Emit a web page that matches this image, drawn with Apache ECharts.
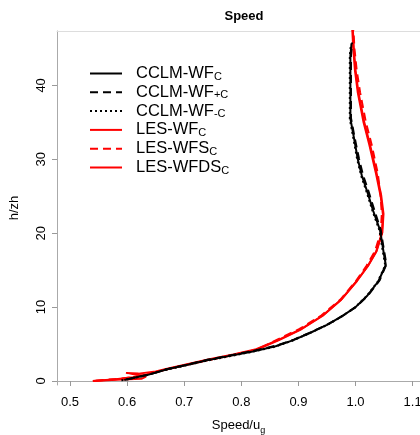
<!DOCTYPE html>
<html><head><meta charset="utf-8">
<script src="https://cdn.jsdelivr.net/npm/echarts@6/dist/echarts.min.js"></script>
<style>html,body{margin:0;padding:0;background:#fff}#c{width:420px;height:435px}</style>
</head><body><div id="c"></div><script>
// Tick labels
const xTicks = [0.5, 0.6, 0.7, 0.8, 0.9, 1.0, 1.1];
const yTicks = [0, 10, 20, 30, 40];

// Series: speed (x) and height h/zh (y)
const cclmWfC_h = [0.15, 0.4, 0.8, 1.6, 2.1, 2.8, 3.4, 4.0, 4.7, 5.5, 6.5, 7.6, 8.7, 10.0, 11.5, 13.5, 15.7, 17.5, 20.4, 23.0, 25.5, 27.8, 30.0, 33.0, 35.5, 40.0, 44.0, 45.7];
const cclmWfC_s = [0.595, 0.61, 0.635, 0.67, 0.70, 0.74, 0.78, 0.82, 0.86, 0.89, 0.92, 0.95, 0.975, 1.0, 1.02, 1.04, 1.053, 1.049, 1.043, 1.031, 1.021, 1.011, 1.004, 0.997, 0.991, 0.991, 0.991, 0.993];

const cclmWfPlus_h = [0.2, 0.5, 0.9, 1.7, 2.2, 2.9, 3.5, 4.1, 4.8, 5.6, 6.6, 7.7, 8.8, 10.1, 11.6, 13.6, 15.8, 17.6, 20.5, 23.1, 25.6, 27.9, 30.1, 33.1, 35.6, 40.0, 44.0, 45.8];
const cclmWfPlus_s = [0.60, 0.615, 0.64, 0.675, 0.705, 0.742, 0.782, 0.822, 0.862, 0.892, 0.922, 0.952, 0.977, 1.002, 1.022, 1.042, 1.054, 1.050, 1.044, 1.033, 1.023, 1.013, 1.006, 0.998, 0.992, 0.992, 0.992, 0.994];

const cclmWfMinus_h = [0.1, 0.35, 0.75, 1.55, 2.05, 2.75, 3.35, 3.95, 4.65, 5.45, 6.45, 7.55, 8.65, 9.95, 11.45, 13.45, 15.65, 17.45, 20.35, 22.95, 25.45, 27.75, 29.95, 32.95, 35.45, 40.0, 44.0, 45.6];
const cclmWfMinus_s = [0.59, 0.607, 0.633, 0.668, 0.699, 0.739, 0.779, 0.819, 0.859, 0.889, 0.919, 0.949, 0.974, 0.999, 1.019, 1.039, 1.052, 1.048, 1.042, 1.030, 1.020, 1.010, 1.003, 0.996, 0.990, 0.990, 0.990, 0.992];

const lesWfC_h = [0.0, 0.25, 0.5, 0.8, 1.2, 1.6, 2.2, 2.8, 3.5, 4.2, 5.5, 7.0, 8.8, 11.0, 13.5, 15.5, 17.5, 20.0, 22.5, 25.0, 28.0, 32.0, 35.0, 39.0, 42.0, 45.0, 48.0];
const lesWfC_s = [0.54, 0.58, 0.61, 0.63, 0.65, 0.67, 0.705, 0.74, 0.785, 0.825, 0.865, 0.905, 0.942, 0.975, 1.002, 1.021, 1.036, 1.046, 1.048, 1.044, 1.036, 1.024, 1.014, 1.004, 0.999, 0.996, 0.994];

const lesWfsC_h = [0.05, 0.3, 0.55, 0.85, 1.25, 1.65, 2.25, 2.85, 3.55, 4.25, 5.55, 7.05, 8.85, 11.05, 13.55, 15.55, 17.55, 20.05, 22.55, 25.05, 28.05, 32.05, 35.05, 39.05, 42.05, 45.05, 48.0];
const lesWfsC_s = [0.545, 0.585, 0.615, 0.633, 0.652, 0.672, 0.707, 0.743, 0.787, 0.827, 0.862, 0.902, 0.94, 0.974, 1.001, 1.019, 1.034, 1.044, 1.046, 1.044, 1.039, 1.028, 1.018, 1.008, 1.002, 0.998, 0.996];

const lesWfdsC_h = [0.0, 0.2, 0.3, 0.6, 0.9, 1.1, 1.0, 1.3, 1.7, 2.3, 2.9, 3.6, 4.3, 5.6, 7.1, 8.9, 11.1, 13.6, 15.6, 17.6, 20.1, 22.6, 25.1, 28.1, 32.1, 35.1, 39.1, 42.1, 45.1, 48.0];
const lesWfdsC_s = [0.54, 0.59, 0.625, 0.633, 0.612, 0.598, 0.62, 0.65, 0.672, 0.707, 0.742, 0.786, 0.826, 0.866, 0.906, 0.943, 0.976, 1.003, 1.022, 1.037, 1.047, 1.049, 1.045, 1.037, 1.025, 1.015, 1.005, 1.0, 0.997, 0.995];

const seriesNames = ['CCLM-WFC', 'CCLM-WF+C', 'CCLM-WF-C', 'LES-WFC', 'LES-WFSC', 'LES-WFDSC'];
const legendMain = ['CCLM-WF', 'CCLM-WF', 'CCLM-WF', 'LES-WF', 'LES-WFS', 'LES-WFDS'];
const legendSub = ['C', '+C', '-C', 'C', 'C', 'C'];

function pairs(s, h) { return s.map((v, i) => [v, h[i]]); }

const specs = [
  [cclmWfC_s, cclmWfC_h, '#000000', 'solid'],
  [cclmWfPlus_s, cclmWfPlus_h, '#000000', [8, 5]],
  [cclmWfMinus_s, cclmWfMinus_h, '#000000', [2, 3]],
  [lesWfC_s, lesWfC_h, '#ff0000', 'solid'],
  [lesWfsC_s, lesWfsC_h, '#ff0000', [8, 5]],
  [lesWfdsC_s, lesWfdsC_h, '#ff0000', 'solid']
];

const series = specs.map((sp, i) => ({
  name: seriesNames[i],
  type: 'line',
  data: pairs(sp[0], sp[1]),
  symbol: 'none',
  showSymbol: false,
  smooth: false,
  xAxisIndex: 0, yAxisIndex: 0,
  lineStyle: { color: sp[2], width: 2, type: sp[3] },
  itemStyle: { color: sp[2] },
  emphasis: { disabled: true },
  z: i < 3 ? 3 : 2
}));

const FF = '"Liberation Sans", Arial, sans-serif';
const chart = echarts.init(document.getElementById('c'), null, { renderer: 'canvas' });
chart.setOption({
  animation: false,
  backgroundColor: '#fff',
  title: {
    text: 'Speed', left: 239, top: 5, textAlign: 'center',
    textStyle: { fontFamily: FF, fontSize: 13, fontWeight: 'bold', color: '#000' }
  },
  grid: { left: 57, right: 0, top: 31, bottom: 50, containLabel: false, outerBoundsMode: 'none' },
  legend: {
    orient: 'vertical', left: 84, top: 60,
    itemWidth: 32, itemHeight: 14, itemGap: 1.8,
    itemStyle: { opacity: 0 },
    data: seriesNames,
    formatter: function (name) {
      const i = seriesNames.indexOf(name);
      return '{m|' + legendMain[i] + '}{s|' + legendSub[i] + '}';
    },
    textStyle: {
      fontFamily: FF, color: '#000', padding: [0, 0, 0, 9],
      rich: {
        m: { fontFamily: FF, fontSize: 16.5, color: '#000', lineHeight: 17, verticalAlign: 'middle' },
        s: { fontFamily: FF, fontSize: 11, color: '#000', lineHeight: 17, verticalAlign: 'bottom', padding: [0, 0, 0, 0] }
      }
    }
  },
  xAxis: [{
    type: 'value', min: 0.4772, max: 1.1129, position: 'bottom',
    name: '{m|Speed/u}{s|g}', nameLocation: 'middle', nameGap: 33,
    nameTextStyle: {
      fontFamily: FF, color: '#000',
      rich: {
        m: { fontFamily: FF, fontSize: 13, color: '#000', lineHeight: 15, verticalAlign: 'middle' },
        s: { fontFamily: FF, fontSize: 9, color: '#000', lineHeight: 15, verticalAlign: 'bottom', padding: [0, 0, -2, 0] }
      }
    },
    splitLine: { show: false },
    axisLine: { show: true, lineStyle: { color: '#aaaaaa', width: 1 } },
    axisTick: { show: true, customValues: xTicks, length: 5, lineStyle: { color: '#999999' } },
    axisLabel: { customValues: xTicks, formatter: v => v.toFixed(1), fontFamily: FF, fontSize: 13, color: '#000', margin: 11 }
  }, {
    type: 'value', min: 0.4772, max: 1.1129, position: 'top',
    splitLine: { show: false },
    axisLine: { show: true, lineStyle: { color: '#dddddd', width: 1 } },
    axisTick: { show: false }, axisLabel: { show: false }
  }],
  yAxis: [{
    type: 'value', min: -0.54, max: 47.36,
    name: 'h/zh', nameLocation: 'middle', nameGap: 36, nameRotate: 90,
    nameTextStyle: { fontFamily: FF, fontSize: 13, color: '#000' },
    splitLine: { show: false },
    axisLine: { show: true, lineStyle: { color: '#aaaaaa', width: 1 } },
    axisTick: { show: true, customValues: yTicks, length: 5, lineStyle: { color: '#999999' } },
    axisLabel: { customValues: yTicks, rotate: 90, fontFamily: FF, fontSize: 13, color: '#000', margin: 9 }
  }],
  series: series
});
</script></body></html>
